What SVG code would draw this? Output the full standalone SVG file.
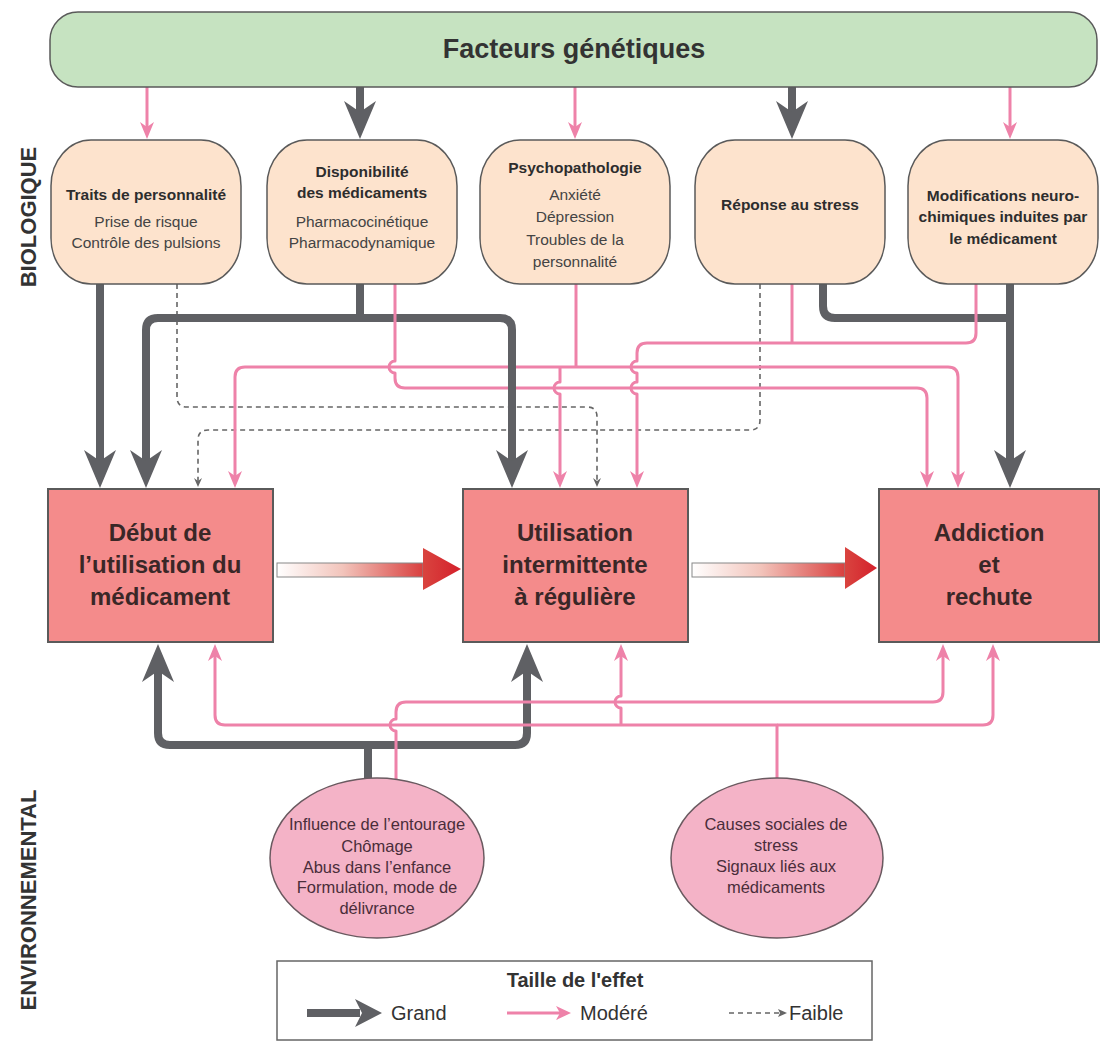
<svg xmlns="http://www.w3.org/2000/svg" width="1103" height="1043" viewBox="0 0 1103 1043">
<style>
.gray{fill:none;stroke:#5f6064;stroke-width:8;stroke-linejoin:round}
.pink{fill:none;stroke:#ee82a9;stroke-width:3;stroke-linejoin:round}
.dash{fill:none;stroke:#666;stroke-width:1.6;stroke-dasharray:5 4}
.bio{fill:#fde3cd;stroke:#5a5a5a;stroke-width:1.5}
.stage{fill:#f48b8b;stroke:#5a5a5a;stroke-width:2}
.env{fill:#f4b3c7;stroke:#6a5a60;stroke-width:1.5}
text{font-family:"Liberation Sans",Arial,sans-serif}
.nb{font-size:15.5px;font-weight:bold;fill:#2d2d2d;text-anchor:middle}
.nr{font-size:15.5px;fill:#444;text-anchor:middle}
.st{font-size:24px;font-weight:bold;fill:#3a2727;text-anchor:middle}
.et{font-size:16.5px;fill:#4a2d3a;text-anchor:middle}
.side{font-size:22px;font-weight:bold;fill:#333;text-anchor:middle}
.lg{font-size:20px;fill:#333}
</style>
<defs>
<marker id="mG" markerUnits="userSpaceOnUse" markerWidth="40" markerHeight="34" viewBox="0 -17 40 34" refX="11" refY="0" orient="auto" overflow="visible"><path d="M38,0 L0,-16 L11,0 L0,16 Z" fill="#5f6064"/></marker>
<marker id="mP" markerUnits="userSpaceOnUse" markerWidth="18" markerHeight="16" viewBox="0 -8 18 16" refX="5" refY="0" orient="auto" overflow="visible"><path d="M17,0 L0,-7 L5,0 L0,7 Z" fill="#ee82a9"/></marker>
<marker id="mD" markerUnits="userSpaceOnUse" markerWidth="10" markerHeight="10" viewBox="0 -5 10 10" refX="3" refY="0" orient="auto" overflow="visible"><path d="M9,0 L0,-4 L3,0 L0,4 Z" fill="#666"/></marker>
<linearGradient id="barGrad" x1="0" y1="0" x2="1" y2="0"><stop offset="0" stop-color="#ffffff"/><stop offset="0.45" stop-color="#f2c4bb"/><stop offset="1" stop-color="#d9403f"/></linearGradient>
<linearGradient id="headGrad" x1="0" y1="0" x2="1" y2="0"><stop offset="0" stop-color="#d9443f"/><stop offset="1" stop-color="#d4202b"/></linearGradient>
</defs>
<rect width="1103" height="1043" fill="#ffffff"/>

<g id="side-labels">
<text class="side" transform="translate(36,217) rotate(-90)">BIOLOGIQUE</text>
<text class="side" transform="translate(36,900) rotate(-90)">ENVIRONNEMENTAL</text>
</g>

<g id="connectors">
<path class="pink" d="M147,87 V127" marker-end="url(#mP)"/>
<path class="gray" d="M360,87 V112" marker-end="url(#mG)"/>
<path class="pink" d="M575,87 V127" marker-end="url(#mP)"/>
<path class="gray" d="M792,87 V112" marker-end="url(#mG)"/>
<path class="pink" d="M1010,87 V127" marker-end="url(#mP)"/>

<path class="dash" d="M177,284 V397 Q177,407 187,407 H587 Q597,407 597,417 V481" marker-end="url(#mD)"/>
<path class="dash" d="M760,284 V420 Q760,430 750,430 H208 Q198,430 198,440 V481" marker-end="url(#mD)"/>

<path class="gray" d="M100,284 V461" marker-end="url(#mG)"/>
<path class="gray" d="M360,284 V318"/>
<path class="gray" d="M360,318 H158 Q146,318 146,330 V461" marker-end="url(#mG)"/>
<path class="gray" d="M360,318 H500 Q512,318 512,330 V461" marker-end="url(#mG)"/>
<path class="gray" d="M823,284 V306 Q823,318 835,318 H1010"/>
<path class="gray" d="M1010,284 V461" marker-end="url(#mG)"/>

<path class="pink" d="M576,284 V367"/>
<path class="pink" d="M576,367 H245 Q235,367 235,377 V476" marker-end="url(#mP)"/>
<path class="pink" d="M576,367 H948 Q958,367 958,377 V476" marker-end="url(#mP)"/>
<path class="pink" d="M560,367 V382 A6,6 0 0 0 560,394 V476" marker-end="url(#mP)"/>
<path class="pink" d="M395,284 V361 A6,6 0 0 0 395,373 V378 Q395,388 405,388 H917 Q927,388 927,398 V476" marker-end="url(#mP)"/>
<path class="pink" d="M792,284 V343"/>
<path class="pink" d="M976,284 V333 Q976,343 966,343 H647 Q637,343 637,353 V361 A6,6 0 0 0 637,373 V382 A6,6 0 0 0 637,394 V476" marker-end="url(#mP)"/>
<path class="gray" d="M512,352 V402"/>

<path class="gray" d="M368,778 V745 H170 Q158,745 158,733 V671" marker-end="url(#mG)"/>
<path class="gray" d="M368,745 H515 Q527,745 527,733 V671" marker-end="url(#mG)"/>
<path class="pink" d="M396,780 V731 A6,6 0 0 1 396,719 V712 Q396,702 406,702 H933 Q943,702 943,692 V656" marker-end="url(#mP)"/>
<path class="pink" d="M777,778 V725 H225 Q215,725 215,715 V656" marker-end="url(#mP)"/>
<path class="pink" d="M777,725 H983 Q993,725 993,715 V656" marker-end="url(#mP)"/>
<path class="pink" d="M621,725 V708 A6,6 0 0 1 621,696 V656" marker-end="url(#mP)"/>

<rect x="277" y="563" width="146" height="14" fill="url(#barGrad)" stroke="#888" stroke-width="1"/>
<path d="M423,548 L461,569 L423,590 Z" fill="url(#headGrad)"/>
<rect x="692" y="563" width="153" height="14" fill="url(#barGrad)" stroke="#888" stroke-width="1"/>
<path d="M845,547 L877,568 L845,589 Z" fill="url(#headGrad)"/>
</g>

<g id="node-genetique">
<rect x="50" y="12" width="1047" height="75" rx="28" ry="28" fill="#c6e3c1" stroke="#5a5a5a" stroke-width="1.5"/>
<text x="574" y="58" style="font-size:27px;font-weight:bold;fill:#333;text-anchor:middle">Facteurs génétiques</text>
</g>

<g id="node-traits">
<rect class="bio" x="51" y="140" width="190" height="144" rx="40" ry="46"/>
<text class="nb" x="146" y="200">Traits de personnalité</text>
<text class="nr" x="146" y="227">Prise de risque</text>
<text class="nr" x="146" y="248">Contrôle des pulsions</text>
</g>

<g id="node-disponibilite">
<rect class="bio" x="267" y="140" width="190" height="144" rx="40" ry="46"/>
<text class="nb" x="362" y="177">Disponibilité</text>
<text class="nb" x="362" y="198">des médicaments</text>
<text class="nr" x="362" y="227">Pharmacocinétique</text>
<text class="nr" x="362" y="248">Pharmacodynamique</text>
</g>

<g id="node-psycho">
<rect class="bio" x="480" y="140" width="190" height="144" rx="40" ry="46"/>
<text class="nb" x="575" y="173">Psychopathologie</text>
<text class="nr" x="575" y="200">Anxiété</text>
<text class="nr" x="575" y="222">Dépression</text>
<text class="nr" x="575" y="245">Troubles de la</text>
<text class="nr" x="575" y="267">personnalité</text>
</g>

<g id="node-stress">
<rect class="bio" x="695" y="140" width="190" height="144" rx="40" ry="46"/>
<text class="nb" x="790" y="210">Réponse au stress</text>
</g>

<g id="node-neuro">
<rect class="bio" x="908" y="140" width="190" height="144" rx="40" ry="46"/>
<text class="nb" x="1003" y="201">Modifications neuro-</text>
<text class="nb" x="1003" y="222">chimiques induites par</text>
<text class="nb" x="1003" y="244">le médicament</text>
</g>

<g id="node-debut">
<rect class="stage" x="48" y="489" width="225" height="153"/>
<text class="st" x="160" y="541">Début de</text>
<text class="st" x="160" y="573">l’utilisation du</text>
<text class="st" x="160" y="605">médicament</text>
</g>

<g id="node-utilisation">
<rect class="stage" x="463" y="489" width="225" height="153"/>
<text class="st" x="575" y="541">Utilisation</text>
<text class="st" x="575" y="573">intermittente</text>
<text class="st" x="575" y="605">à régulière</text>
</g>

<g id="node-addiction">
<rect class="stage" x="879" y="489" width="220" height="153"/>
<text class="st" x="989" y="541">Addiction</text>
<text class="st" x="989" y="573">et</text>
<text class="st" x="989" y="605">rechute</text>
</g>

<g id="node-entourage">
<ellipse class="env" cx="377" cy="858" rx="107" ry="80"/>
<text class="et" x="377" y="830">Influence de l’entourage</text>
<text class="et" x="377" y="852">Chômage</text>
<text class="et" x="377" y="873">Abus dans l’enfance</text>
<text class="et" x="377" y="893">Formulation, mode de</text>
<text class="et" x="377" y="914">délivrance</text>
</g>

<g id="node-social">
<ellipse class="env" cx="777" cy="858" rx="106" ry="80"/>
<text class="et" x="776" y="830">Causes sociales de</text>
<text class="et" x="776" y="851">stress</text>
<text class="et" x="776" y="872">Signaux liés aux</text>
<text class="et" x="776" y="893">médicaments</text>
</g>

<g id="legend">
<rect x="277" y="961" width="595" height="79" fill="#ffffff" stroke="#666" stroke-width="1.5"/>
<text x="575" y="987" style="font-size:20px;font-weight:bold;fill:#333;text-anchor:middle">Taille de l'effet</text>
<path d="M307,1013 H360" stroke="#5f6064" stroke-width="8" fill="none"/>
<path d="M382,1013 L355,999 L362,1013 L355,1027 Z" fill="#5f6064"/>
<text class="lg" x="391" y="1020">Grand</text>
<path d="M507,1013 H562" stroke="#ee82a9" stroke-width="3" fill="none"/>
<path d="M571,1013 L556,1006 L560,1013 L556,1020 Z" fill="#ee82a9"/>
<text class="lg" x="580" y="1020">Modéré</text>
<path class="dash" d="M729,1013 H779"/>
<path d="M787,1013 L778,1009 L780,1013 L778,1017 Z" fill="#666"/>
<text class="lg" x="789" y="1020">Faible</text>
</g>
</svg>
